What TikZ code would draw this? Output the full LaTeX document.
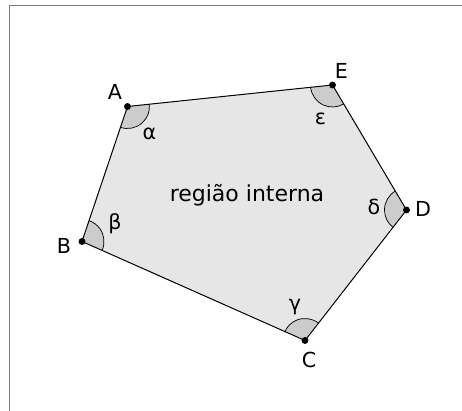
\documentclass[tikz,border=0pt]{standalone}
\usepackage{fontspec}
\setmainfont{DejaVu Sans}
\begin{document}
\begin{tikzpicture}[x=0.75pt,y=0.75pt,
  edge/.style={draw=black,line width=0.75pt},
  region/.style={fill=polyfill},
  sector/.style={fill=sectfill},
  arcline/.style={draw=black,line width=0.55pt},
  vdot/.style={fill=black},
  vlabel/.style={font=\fontsize{15.5}{18}\selectfont,inner sep=0pt},
  alabel/.style={font=\fontsize{15.5}{18}\selectfont,inner sep=0pt},
  frameline/.style={draw=framegray,line width=1.3pt}]
\definecolor{polyfill}{HTML}{E6E6E6}
\definecolor{sectfill}{HTML}{CCCCCC}
\definecolor{framegray}{HTML}{7A7A7A}
\useasboundingbox (0,0) rectangle (462,411);
% frame
\coordinate (f1) at (9.5,0);
\coordinate (f2) at (9.5,405.5);
\coordinate (f3) at (462,405.5);
\draw[frameline] (f1) -- (f2) -- (f3);
% vertices
\coordinate (A) at (127.5,304.5);
\coordinate (E) at (332.5,326);
\coordinate (D) at (406.5,201);
\coordinate (C) at (305,70.5);
\coordinate (B) at (82,169.5);
\def\rr{16.5pt}
% polygon fill
\fill[region] (A) -- (E) -- (D) -- (C) -- (B) -- cycle;
% angle sectors
\fill[sector] (A) -- ++(-108.6:\rr) arc[start angle=-108.6,end angle=6.0,radius=\rr] -- cycle;
\draw[arcline] (A) ++(-108.6:\rr) arc[start angle=-108.6,end angle=6.0,radius=\rr];
\fill[sector] (E) -- ++(186.0:\rr) arc[start angle=186.0,end angle=300.6,radius=\rr] -- cycle;
\draw[arcline] (E) ++(186.0:\rr) arc[start angle=186.0,end angle=300.6,radius=\rr];
\fill[sector] (D) -- ++(120.6:\rr) arc[start angle=120.6,end angle=232.1,radius=\rr] -- cycle;
\draw[arcline] (D) ++(120.6:\rr) arc[start angle=120.6,end angle=232.1,radius=\rr];
\fill[sector] (C) -- ++(52.1:\rr) arc[start angle=52.1,end angle=156.1,radius=\rr] -- cycle;
\draw[arcline] (C) ++(52.1:\rr) arc[start angle=52.1,end angle=156.1,radius=\rr];
\fill[sector] (B) -- ++(-23.9:\rr) arc[start angle=-23.9,end angle=71.4,radius=\rr] -- cycle;
\draw[arcline] (B) ++(-23.9:\rr) arc[start angle=-23.9,end angle=71.4,radius=\rr];
% edges
\draw[edge] (A) -- (E) -- (D) -- (C) -- (B) -- cycle;
% dots
\foreach \p in {A,B,C,D,E} \fill[vdot] (\p) circle (2.6pt);
% vertex labels
\node[vlabel] (lA) at (115,319.5) {A};
\node[vlabel] (lE) at (341.5,340) {E};
\node[vlabel] (lD) at (423,202) {D};
\node[vlabel] (lC) at (309,51) {C};
\node[vlabel] (lB) at (64,165) {B};
% angle labels
\node[alabel] (la) at (149.5,277.5) {α};
\node[alabel] (le) at (320.5,292) {ε};
\node[alabel] (ld) at (374,204) {δ};
\node[alabel] (lg) at (295,104) {γ};
\node[alabel] (lb) at (115,187) {β};
% region text
\node[font=\fontsize{16.5}{19}\selectfont,inner sep=0pt,anchor=base] (rt) at (247,209.3) {região interna};
\end{tikzpicture}
\end{document}
